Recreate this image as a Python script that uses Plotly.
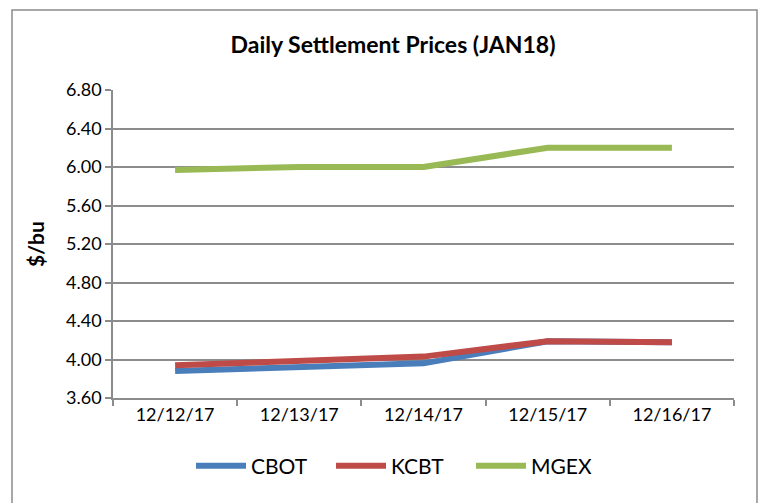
import plotly.graph_objects as go

dates = ["12/12/17", "12/13/17", "12/14/17", "12/15/17", "12/16/17"]
cbot = [3.88, 3.92, 3.96, 4.19, 4.18]
kcbt = [3.94, 3.99, 4.03, 4.19, 4.18]
mgex = [5.97, 6.00, 6.00, 6.20, 6.20]
yticks = [3.6, 4.0, 4.4, 4.8, 5.2, 5.6, 6.0, 6.4, 6.8]

W, H = 766, 503
OFF = 8  # page body margin
L, T = 113 - OFF, 90 - OFF
R = W - (734 - OFF)
B = H - (398 - OFF)

fig = go.Figure()
for name, vals, col in [("CBOT", cbot, "#4a7ebb"), ("KCBT", kcbt, "#be4b48"), ("MGEX", mgex, "#98b954")]:
    fig.add_trace(go.Scatter(x=dates, y=vals, name=name, mode="lines",
                             line=dict(color=col, width=6)))

pw = W - L - R
ph = H - T - B
def px2x(p):
    return (p - OFF - L) / pw
def py2y(p):
    return (H - B - (p - OFF)) / ph

fig.add_shape(type="rect", xref="paper", yref="paper",
              x0=px2x(12), x1=px2x(757), y0=py2y(530), y1=py2y(10),
              line=dict(color="#8c8c8c", width=1.5), fillcolor="rgba(0,0,0,0)", layer="below")

fig.update_layout(
    width=W, height=H,
    margin=dict(l=L, r=R, t=T, b=B),
    paper_bgcolor="white", plot_bgcolor="white",
    font=dict(family="Lato, 'Liberation Sans', sans-serif", color="#000"),
    title=dict(text="<b>Daily Settlement Prices (JAN18)</b>", x=px2x(393), xref="paper",
               xanchor="center", y=1 - (45 - OFF) / H, yanchor="middle", font=dict(size=23)),
    showlegend=True,
    legend=dict(orientation="h", x=px2x(401), xref="paper", xanchor="center",
                y=py2y(466), yanchor="middle", font=dict(size=21),
                itemwidth=50, entrywidth=75, entrywidthmode="pixels", traceorder="normal"),
    xaxis=dict(type="category", range=[-0.5, 4.5], showgrid=False,
               showline=True, linecolor="#8c8c8c", linewidth=1.5,
               ticks="outside", ticklen=6, tickcolor="#8c8c8c", tickwidth=1.5,
               tickson="boundaries", tickfont=dict(size=18), zeroline=False),
    yaxis=dict(range=[3.6, 6.8], tickvals=yticks, tickformat=".2f",
               showgrid=True, gridcolor="#8c8c8c", gridwidth=1.5,
               showline=True, linecolor="#8c8c8c", linewidth=1.5,
               ticks="outside", ticklen=6, tickcolor="#8c8c8c", tickwidth=1.5,
               tickfont=dict(size=18), zeroline=False,
               title=dict(text="<b>$/bu</b>", font=dict(size=21), standoff=16)),
)

fig.write_html("out.html")
